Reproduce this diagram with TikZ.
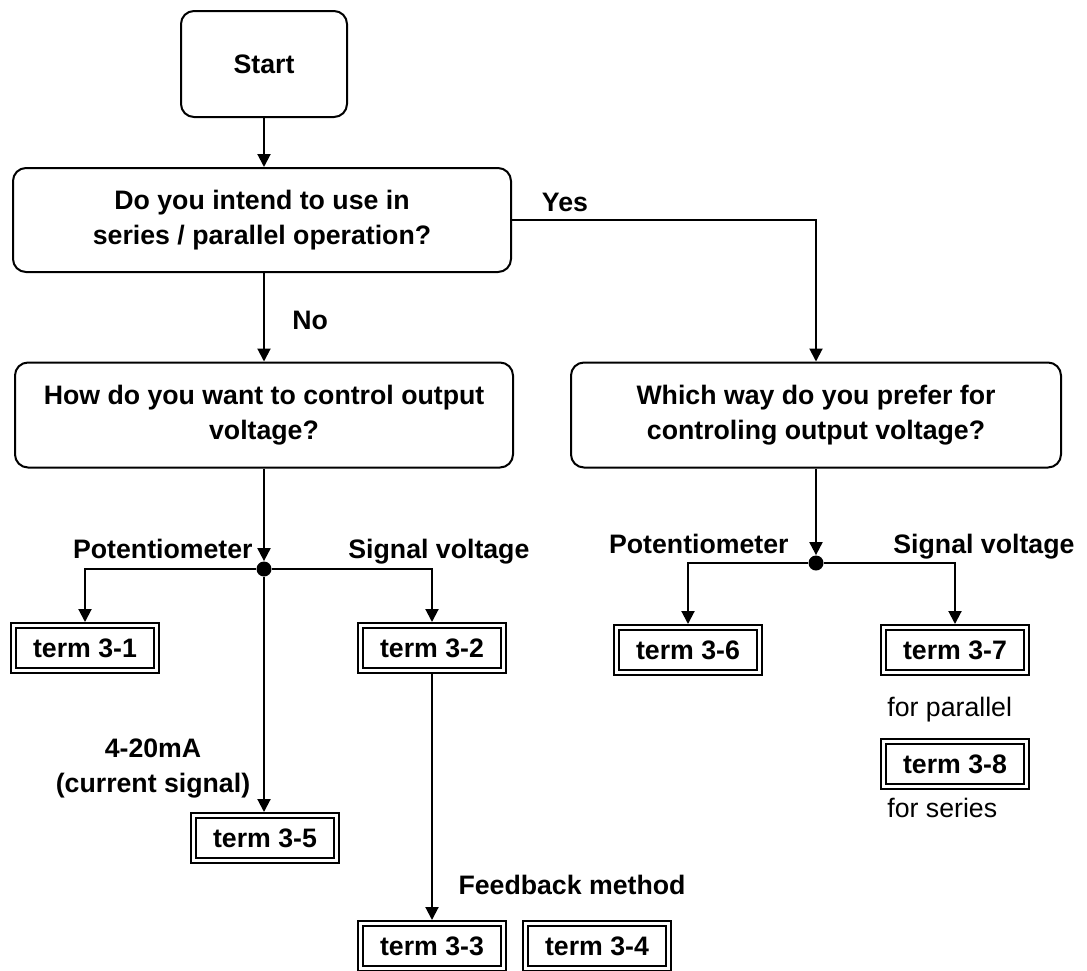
\documentclass[tikz,border=0pt]{standalone}
\usepackage{fontspec}
\setmainfont{Liberation Sans}
\usetikzlibrary{arrows.meta}

\begin{document}
\begin{tikzpicture}[
    x=0.5pt, y=-0.5pt,
    psuFontStyle/.style={font=\fontsize{13.35pt}{17.5pt}\selectfont\bfseries},
    psuBoxStyle/.style={draw, line width=1pt, rounded corners=6.5pt, align=center, inner sep=0pt, psuFontStyle},
    psuTermStyle/.style={draw, line width=1pt, double, double distance=1.5pt, inner sep=0pt, outer sep=1.75pt,
        minimum width=71.5pt, minimum height=22.5pt, psuFontStyle},
    psuArrowStyle/.style={line width=1pt, -{Triangle[width=6.5pt,length=6.5pt]}},
    psuLabelStyle/.style={inner sep=0pt, align=center, psuFontStyle},
    psuNoteStyle/.style={inner sep=0pt, font=\fontsize{13.35pt}{17.5pt}\selectfont},
    psuDotStyle/.style={circle, fill, inner sep=0pt, minimum size=7.5pt}
]
    \useasboundingbox (0,0) rectangle (1087,970);

    % --- questions ---
    \node[psuBoxStyle, minimum width=83pt, minimum height=53pt] (start) at (264,64) {Start};
    \node[psuBoxStyle, minimum width=249pt, minimum height=52pt] (askMode) at (262,220)
        {Do you intend to use in\\series / parallel operation?};
    \node[psuBoxStyle, minimum width=249pt, minimum height=52.5pt] (askSingle) at (264,415)
        {How do you want to control output\\voltage?};
    \node[psuBoxStyle, minimum width=245pt, minimum height=52.5pt] (askMulti) at (816,415)
        {Which way do you prefer for\\controling output voltage?};

    % --- junctions ---
    \node[psuDotStyle] (jointSingle) at (264,569) {};
    \node[psuDotStyle] (jointMulti) at (816,563) {};

    % --- terms ---
    \node[psuTermStyle] (term31) at (85,648) {term 3-1};
    \node[psuTermStyle] (term32) at (432,648) {term 3-2};
    \node[psuTermStyle] (term35) at (265,838) {term 3-5};
    \node[psuTermStyle] (term33) at (432,946) {term 3-3};
    \node[psuTermStyle] (term34) at (597,946) {term 3-4};
    \node[psuTermStyle] (term36) at (688,650) {term 3-6};
    \node[psuTermStyle] (term37) at (955,650) {term 3-7};
    \node[psuTermStyle] (term38) at (955,764) {term 3-8};

    % --- connectors ---
    \draw[psuArrowStyle] (start.south) -- (start.south |- askMode.north);
    \draw[psuArrowStyle] (askSingle.north |- askMode.south) -- (askSingle.north);
    \draw[psuArrowStyle] (askMode.east) -| (askMulti.north);
    \draw[psuArrowStyle] (askSingle.south) -- (jointSingle.north);
    \draw[psuArrowStyle] (jointSingle) -| (term31.north);
    \draw[psuArrowStyle] (jointSingle) -| (term32.north);
    \draw[psuArrowStyle] (jointSingle) -- (jointSingle |- term35.north);
    \draw[psuArrowStyle] (term32.south) -- (term33.north);
    \draw[psuArrowStyle] (askMulti.south) -- (jointMulti.north);
    \draw[psuArrowStyle] (jointMulti) -| (term36.north);
    \draw[psuArrowStyle] (jointMulti) -| (term37.north);

    % --- labels ---
    \node[psuLabelStyle] (yesLabel) at (565,202) {Yes};
    \node[psuLabelStyle, anchor=mid west] (noLabel) at (292,324) {No};
    \node[psuLabelStyle, anchor=mid east] (potSingle) at (253,553) {Potentiometer};
    \node[psuLabelStyle, anchor=mid west] (sigSingle) at (348,553) {Signal voltage};
    \node[psuLabelStyle, anchor=mid east] (potMulti) at (789,548) {Potentiometer};
    \node[psuLabelStyle, anchor=mid west] (sigMulti) at (893,548) {Signal voltage};
    \node[psuLabelStyle] (currentLabel) at (153,768) {4-20mA\\(current signal)};
    \node[psuLabelStyle] (feedbackLabel) at (572,885) {Feedback method};
    \node[psuNoteStyle, anchor=mid west] (parallelNote) at (887,711) {for parallel};
    \node[psuNoteStyle, anchor=mid west] (seriesNote) at (887,812) {for series};
\end{tikzpicture}
\end{document}
